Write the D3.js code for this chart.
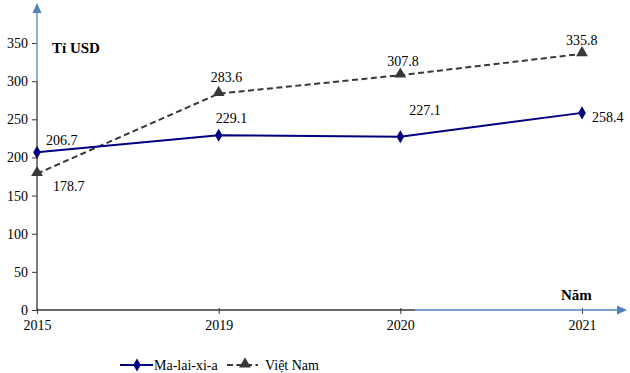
<!DOCTYPE html>
<html><head><meta charset="utf-8">
<script src="https://cdn.jsdelivr.net/npm/d3@7"></script>
<style>body{margin:0;background:#fff}svg{display:block}</style>
</head><body><svg id="c" width="630" height="373"></svg>
<script>
const years = ["2015","2019","2020","2021"];
const malaysia = [206.7, 229.1, 227.1, 258.4];
const vietnam = [178.7, 283.6, 307.8, 335.8];
const yTicks = [0,50,100,150,200,250,300,350];
const seriesNames = ["Ma-lai-xi-a","Việt Nam"];

const FONT = "'Liberation Serif','Times New Roman','DejaVu Serif',serif";
const svg = d3.select("#c");
const x = d3.scalePoint().domain(years).range([37, 582]);
const y = d3.scaleLinear().domain([0, 350]).range([310, 43]);
const dark = "#383838", blue = "#4f81bd", navy = "#000080";

// axes
const gy = svg.append("g").attr("transform","translate(37,0)")
  .call(d3.axisLeft(y).tickValues(yTicks).tickSize(5).tickPadding(4));
gy.attr("font-family", null);
gy.select(".domain").remove();
gy.selectAll("line").attr("stroke", dark);
gy.selectAll("text").attr("font-size",14).attr("fill","#000").style("font-family",FONT);
const gx = svg.append("g").attr("transform","translate(0,310)")
  .call(d3.axisBottom(x).tickSize(4).tickPadding(6));
gx.attr("font-family", null);
gx.select(".domain").remove();
gx.selectAll("line").attr("stroke", dark).attr("y1",-2);
gx.selectAll("text").attr("font-size",14).attr("fill","#000").style("font-family",FONT);

// axis lines with arrows
svg.append("line").attr("x1",37).attr("x2",37).attr("y1",310).attr("y2",y(300)).attr("stroke",dark).attr("stroke-width",1.3);
svg.append("line").attr("x1",37).attr("x2",37).attr("y1",y(300)).attr("y2",12).attr("stroke",blue).attr("stroke-width",1.3);
svg.append("path").attr("d","M37,3 L32.5,13 L41.5,13 Z").attr("fill",blue);
svg.append("line").attr("x1",37).attr("x2",415).attr("y1",310).attr("y2",310).attr("stroke",dark).attr("stroke-width",1.3);
svg.append("line").attr("x1",415).attr("x2",618).attr("y1",310).attr("y2",310).attr("stroke",blue).attr("stroke-width",1.3);
svg.append("path").attr("d","M627,310 L617,305.5 L617,314.5 Z").attr("fill",blue);

const txt = (xx,yy,s,bold)=>svg.append("text").attr("x",xx).attr("y",yy).attr("font-size",14)
  .attr("font-weight",bold?"bold":null).style("font-family",FONT).text(s);
txt(52,53,"Tỉ USD",true).attr("font-size",15);
txt(561,300,"Năm",true).attr("font-size",15);

const line = d3.line().x((d,i)=>x(years[i])).y(d=>y(d));
svg.append("path").datum(vietnam).attr("d",line).attr("fill","none").attr("stroke",dark).attr("stroke-width",2).attr("stroke-dasharray","6,3.5");
svg.append("path").datum(malaysia).attr("d",line).attr("fill","none").attr("stroke",navy).attr("stroke-width",2);

const diamond = d3.symbol().type(d3.symbolDiamond).size(50);
const tri = d3.symbol().type(d3.symbolTriangle).size(60);
svg.selectAll(".m").data(malaysia).join("path").attr("d",diamond)
  .attr("transform",(d,i)=>`translate(${x(years[i])},${y(d)})`).attr("fill",navy);
svg.selectAll(".v").data(vietnam).join("path").attr("d",tri)
  .attr("transform",(d,i)=>`translate(${x(years[i])},${y(d)-1})`).attr("fill",dark);

// data labels
const mOff = [[9,-7],[-3,-12],[9,-22],[10,9]];
const vOff = [[16,17],[-8,-12],[-13,-9],[-16,-9]];
malaysia.forEach((v,i)=>txt(x(years[i])+mOff[i][0], y(v)+mOff[i][1], v.toFixed(1)));
vietnam.forEach((v,i)=>txt(x(years[i])+vOff[i][0], y(v)+vOff[i][1], v.toFixed(1)));

// legend
svg.append("line").attr("x1",120).attr("x2",153).attr("y1",365).attr("y2",365).attr("stroke",navy).attr("stroke-width",2);
svg.append("path").attr("d",diamond).attr("transform","translate(137,365)").attr("fill",navy);
txt(154,370,seriesNames[0]);
svg.append("line").attr("x1",227).attr("x2",258).attr("y1",365).attr("y2",365).attr("stroke",dark).attr("stroke-width",2).attr("stroke-dasharray","6,3.5");
svg.append("path").attr("d",tri).attr("transform","translate(245,364)").attr("fill",dark);
txt(265,370,seriesNames[1]);
</script></body></html>
